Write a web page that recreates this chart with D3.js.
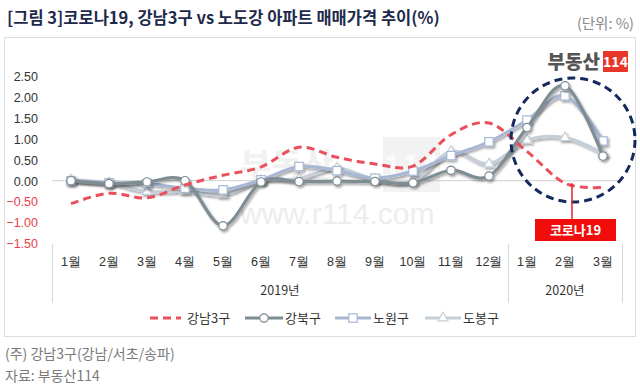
<!DOCTYPE html>
<html><head><meta charset="utf-8">
<script src="https://cdn.jsdelivr.net/npm/d3@7"></script>
<style>
body{margin:0;background:#fff;}
svg{display:block;font-family:"Noto Sans CJK KR","Noto Sans",sans-serif;}
</style></head><body>
<svg id="c" width="640" height="384"></svg>
<script>
const months = ['1월','2월','3월','4월','5월','6월','7월','8월','9월','10월','11월','12월','1월','2월','3월'];
const years = [{label:'2019년', from:0, to:11},{label:'2020년', from:12, to:14}];
const yTicks = [2.5,2.0,1.5,1.0,0.5,0.0,-0.5,-1.0,-1.5];
const gangnam = [-0.55,-0.30,-0.41,-0.10,0.13,0.33,0.80,0.56,0.40,0.35,1.10,1.38,0.70,-0.06,-0.16];
const gangbuk = [0.00,-0.07,-0.03,0.00,-1.08,-0.03,-0.02,-0.01,-0.02,-0.05,0.25,0.11,1.27,2.27,0.59];
const nowon   = [0.00,-0.05,-0.07,-0.18,-0.22,0.02,0.34,0.24,0.06,0.23,0.60,0.93,1.45,2.03,0.95];
const dobong  = [0.02,-0.05,-0.26,-0.25,-0.33,0.00,0.05,0.30,0.03,0.00,0.70,0.40,0.97,1.03,0.65];
const seriesNames = ['강남3구','강북구','노원구','도봉구'];

const svg = d3.select('#c');
const defs = svg.append('defs');
const f = defs.append('filter').attr('id','sh').attr('x','-10%').attr('y','-20%').attr('width','130%').attr('height','160%');
f.append('feDropShadow').attr('dx',1.5).attr('dy',2).attr('stdDeviation',1.3).attr('flood-color','#000').attr('flood-opacity',0.35);

// title
svg.append('text').attr('x',7).attr('y',24).attr('font-size',16.5).attr('font-weight','bold').attr('fill','#1e2a4c')
  .text('[그림 3]코로나19, 강남3구 vs 노도강 아파트 매매가격 추이(%)');
svg.append('text').attr('x',634).attr('y',29).attr('text-anchor','end').attr('font-size',14.5).attr('fill','#8a8a8a').text('(단위: %)');
// frame
svg.append('rect').attr('x',4.5).attr('y',37.5).attr('width',631).attr('height',299).attr('fill','none').attr('stroke','#dcdcdc');

// watermark
const wm = svg.append('g');
wm.append('text').attr('x',240).attr('y',178).attr('font-size',34).attr('font-weight','bold').attr('fill','#f1f1f1').text('부동산');
wm.append('rect').attr('x',383).attr('y',137).attr('width',57).attr('height',55).attr('fill','#f2f2f2');
wm.append('text').attr('x',411).attr('y',178).attr('text-anchor','middle').attr('font-size',32).attr('font-weight','bold').attr('fill','#fbfbfb').text('114');
wm.append('text').attr('x',240).attr('y',224).attr('font-size',30).attr('font-family','Liberation Sans, Arial').attr('fill','#ededed').text('www.r114.com');

// logo
svg.append('text').attr('x',600).attr('y',69).attr('text-anchor','end').attr('font-size',19).attr('font-weight','900').attr('fill','#555').text('부동산');
svg.append('rect').attr('x',603).attr('y',51).attr('width',25).attr('height',21).attr('fill','#e8362b');
svg.append('text').attr('x',615.5).attr('y',67).attr('text-anchor','middle').attr('font-size',14).attr('font-weight','bold').attr('fill','#fff').text('114');

const x = d3.scaleBand().domain(d3.range(months.length)).range([52,622]);
const cx = i => x(i) + x.bandwidth()/2;
const y = d3.scaleLinear().domain([-1.5,2.5]).range([243.4,76.2]);

// y labels
const ya = svg.append('g').attr('transform','translate(41,0)').call(d3.axisLeft(y).tickValues(yTicks).tickFormat(d3.format('.2f')).tickSize(0));
ya.select('.domain').remove();
ya.selectAll('text').attr('font-size',12.5).attr('font-family','Liberation Sans, Arial').attr('fill',d=>d<0?'#e8404c':'#333').attr('dx',0).attr('dy','0.35em');

// zero line
svg.append('line').attr('x1',52).attr('x2',622).attr('y1',y(0)).attr('y2',y(0)).attr('stroke','#d0d0d0').attr('stroke-width',1);

// x axis
const xa = svg.append('g').attr('transform','translate(0,262)').call(d3.axisBottom(x).tickFormat(i=>months[i]).tickSize(0));
xa.select('.domain').remove();
xa.selectAll('text').attr('font-size',12.5).attr('fill','#333').attr('dy','0.35em').attr('y',0);
[52,508,622].forEach(px=>{
  svg.append('line').attr('x1',px+0.5).attr('x2',px+0.5).attr('y1',244).attr('y2',303).attr('stroke','#d9d9d9');
});
years.forEach(g=>{
  svg.append('text').attr('x',(x(g.from)+x(g.to)+x.bandwidth())/2).attr('y',295).attr('text-anchor','middle')
    .attr('font-size',12.5).attr('fill','#333').text(g.label);
});

const line = d3.line().x((d,i)=>cx(i)).y(d=>y(d)).curve(d3.curveCardinal.tension(0));

const styles = [
  {data:gangnam, color:'#e9505c', dash:'8,5', marker:null, w:3},
  {data:dobong, color:'#c5cfd8', dash:null, marker:'tri', w:3.2},
  {data:nowon, color:'#a8b7d4', dash:null, marker:'sq', w:3.2},
  {data:gangbuk, color:'#7e8c94', dash:null, marker:'circ', w:3.2}
];
function drawMarker(g, type, px, py, color){
  if(type==='circ') g.append('circle').attr('cx',px).attr('cy',py).attr('r',4.2).attr('fill','#fff').attr('stroke',color).attr('stroke-width',1.2);
  else if(type==='sq') g.append('rect').attr('x',px-4.2).attr('y',py-4.2).attr('width',8.4).attr('height',8.4).attr('fill','#fff').attr('stroke',color).attr('stroke-width',1.2);
  else if(type==='tri') g.append('path').attr('d',d3.symbol(d3.symbolTriangle,42)()).attr('transform',`translate(${px},${py})`).attr('fill','#fff').attr('stroke',color).attr('stroke-width',1.2);
}
[styles[1],styles[2],styles[3],styles[0]].forEach(s=>{
  const g = svg.append('g').attr('filter', s.dash? null : 'url(#sh)');
  g.append('path').attr('d',line(s.data)).attr('fill','none').attr('stroke',s.color).attr('stroke-width',s.w)
    .attr('stroke-dasharray',s.dash).attr('stroke-linejoin','round');
  if(s.marker) s.data.forEach((v,i)=>drawMarker(g,s.marker,cx(i),y(v),s.color));
});

// dashed circle callout
svg.append('ellipse').attr('cx',cx(13)+8).attr('cy',140).attr('rx',62).attr('ry',62).attr('fill','none')
  .attr('stroke','#142a5c').attr('stroke-width',3).attr('stroke-dasharray','8,5');
svg.append('line').attr('x1',cx(13)+7).attr('x2',cx(13)+7).attr('y1',y(gangnam[13])).attr('y2',219).attr('stroke','#e8202a').attr('stroke-width',1.5);
svg.append('rect').attr('x',535).attr('y',219).attr('width',81).attr('height',22).attr('fill','#f20d0d');
svg.append('text').attr('x',575.5).attr('y',235).attr('text-anchor','middle').attr('font-size',13).attr('font-weight','bold').attr('fill','#fff').text('코로나19');

// legend
const leg = [
  {name:seriesNames[0], s:styles[0], x0:150, x1:181, tx:187},
  {name:seriesNames[1], s:styles[3], x0:245, x1:283, tx:285},
  {name:seriesNames[2], s:styles[2], x0:335, x1:371, tx:373},
  {name:seriesNames[3], s:styles[1], x0:425, x1:461, tx:463}
];
leg.forEach(l=>{
  const g = svg.append('g');
  g.append('line').attr('x1',l.x0).attr('x2',l.x1).attr('y1',318).attr('y2',318).attr('stroke',l.s.color).attr('stroke-width',3.2).attr('stroke-dasharray',l.s.dash);
  if(l.s.marker) drawMarker(g,l.s.marker,(l.x0+l.x1)/2,318,l.s.color);
  g.append('text').attr('x',l.tx).attr('y',322.5).attr('font-size',13).attr('fill','#333').text(l.name);
});

// footnotes
svg.append('text').attr('x',5).attr('y',359).attr('font-size',14).attr('fill','#7a7a7a').text('(주) 강남3구(강남/서초/송파)');
svg.append('text').attr('x',5).attr('y',381).attr('font-size',14).attr('fill','#7a7a7a').text('자료: 부동산114');
</script>
</body></html>
